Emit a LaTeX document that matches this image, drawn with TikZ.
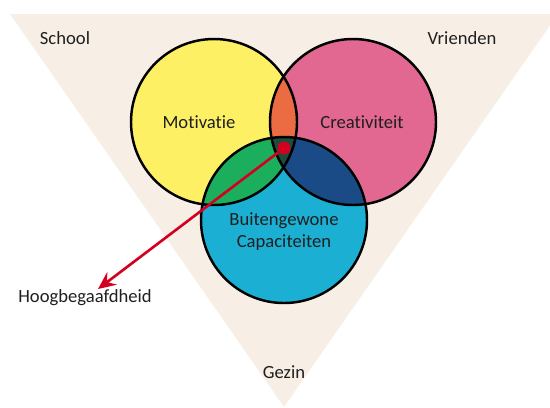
\documentclass[tikz,border=0pt]{standalone}
\usepackage{fontspec}
\setmainfont{Carlito}[Ligatures={NoCommon,NoContextual,NoRequired},Contextuals=NoAlternate]
\usetikzlibrary{arrows.meta}
\definecolor{achter}{RGB}{247,239,230}
\definecolor{geel}{RGB}{254,240,101}
\definecolor{roze}{RGB}{226,103,145}
\definecolor{blauw}{RGB}{27,175,212}
\definecolor{oranje}{RGB}{235,107,67}
\definecolor{groen}{RGB}{27,175,93}
\definecolor{donkerblauw}{RGB}{26,75,135}
\definecolor{donkergroen}{RGB}{29,75,62}
\definecolor{rood}{RGB}{212,0,31}

\begin{document}
\begin{tikzpicture}[x=0.02cm,y=-0.02cm,
  every node/.style={font=\fontsize{10.6}{12.5}\selectfont,text=black!88},
  rand/.style={line width=1.4pt}]
      \def\r{83}
      \clip (0,0) rectangle (550,407);
      \fill[achter] (10,14) -- (558,14) -- (284,407) -- cycle;
      \coordinate (mot) at (214,122);
      \coordinate (cre) at (353,122);
      \coordinate (cap) at (284,220);
      \fill[geel] (mot) circle (\r);
      \fill[roze] (cre) circle (\r);
      \fill[blauw] (cap) circle (\r);
      \begin{scope}
      \clip (mot) circle (\r);
      \fill[oranje] (cre) circle (\r);
      \fill[groen] (cap) circle (\r);
      \end{scope}
      \begin{scope}
      \clip (cre) circle (\r);
      \fill[donkerblauw] (cap) circle (\r);
      \clip (mot) circle (\r);
      \fill[donkergroen] (cap) circle (\r);
      \end{scope}
      \foreach \c in {mot,cre,cap}{
      \draw[rand] (\c) circle (\r);
      }
      \node (motivatie) at (199,122) {Motivatie};
      \node (creativiteit) at (362,122) {Creativiteit};
      \node[align=center] (capaciteiten) at (284,232) {Buitengewone\\Capaciteiten};
      \node (school) at (65,38) {School};
      \node (vrienden) at (462,38) {Vrienden};
      \node (gezin) at (284,372) {Gezin};
      \node (hoog) at (85,298) {Hoogbegaafdheid};
      \node[circle,fill=rood,inner sep=0pt,minimum size=0.26cm] (punt) at (284,148) {};
      \coordinate (pijlpunt) at (98,289);
      \draw[rood,line width=1.5pt,-{Stealth[length=10pt,width=9pt,inset=3.5pt]}] (punt) -- (pijlpunt);
    \end{tikzpicture}
\end{document}
